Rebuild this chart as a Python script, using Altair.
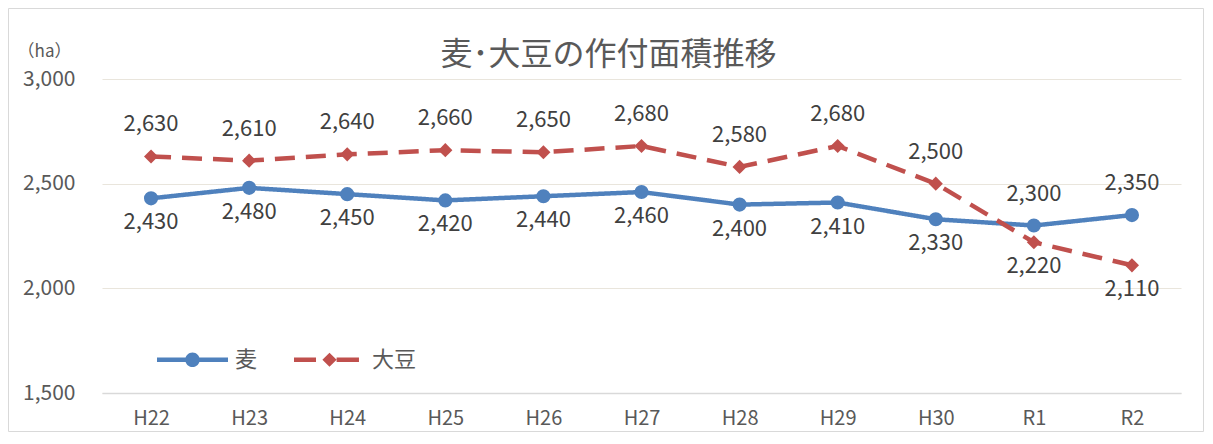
import altair as alt
import pandas as pd

categories = ["H22", "H23", "H24", "H25", "H26", "H27", "H28", "H29", "H30", "R1", "R2"]
wheat = [2430, 2480, 2450, 2420, 2440, 2460, 2400, 2410, 2330, 2300, 2350]
soybean = [2630, 2610, 2640, 2660, 2650, 2680, 2580, 2680, 2500, 2220, 2110]
series_names = ["麦", "大豆"]
y_ticks = [1500, 2000, 2500, 3000]

BLUE = "#4f81bd"
RED = "#c0504d"
FONT = "Noto Sans CJK JP"
TXT = "#595959"

rows = []
for i, c in enumerate(categories):
    w, s = wheat[i], soybean[i]
    rows.append({"cat": c, "series": "麦", "value": w, "upper": bool(w >= s)})
    rows.append({"cat": c, "series": "大豆", "value": s, "upper": bool(s > w)})
df = pd.DataFrame(rows)

W, H = 1079, 314
PL, PT, PR, PB = 94, 71, 23, 39

# legend symbols (unit coords, scaled by sqrt(size)/2)
WHEAT_PATH = ("M-1,-0.065H1V0.065H-1Z "
              "M-0.205,0A0.205,0.205 0 1,1 0.205,0A0.205,0.205 0 1,1 -0.205,0Z")
SOY_PATH = ("M-1,-0.065H-0.38V0.065H-1Z "
            "M0.2,-0.065H0.83V0.065H0.2Z "
            "M0,-0.2L0.2,0L0,0.2L-0.2,0Z")

x = alt.X("cat:N", sort=categories,
          axis=alt.Axis(title=None, labelAngle=0, ticks=False, grid=False,
                        domainColor="#d9d9d9", domainWidth=1.5,
                        labelFontSize=20, labelColor=TXT, labelPadding=15,
                        labelFont=FONT))
y = alt.Y("value:Q", scale=alt.Scale(domain=[1500, 3000], nice=False, zero=False),
          axis=alt.Axis(values=y_ticks, format=",.0f", title="（ha）", titleAngle=0,
                        titleX=-58, titleY=-28, titleAlign="center",
                        titleBaseline="middle", titleFontSize=17,
                        titleFontWeight="normal", titleColor=TXT, titleFont=FONT,
                        labelFontSize=21, labelColor=TXT, labelPadding=27,
                        labelFont=FONT, domain=False, ticks=False,
                        gridColor="#e9e5dc", gridWidth=1.2))

color_nl = alt.Color("series:N", scale=alt.Scale(domain=series_names, range=[BLUE, RED]), legend=None)

base = alt.Chart(df).encode(x=x, y=y)

lines = base.mark_line(strokeWidth=4.5, strokeJoin="round").encode(
    color=color_nl,
    strokeDash=alt.StrokeDash("series:N",
                              scale=alt.Scale(domain=series_names, range=[[1, 0], [20, 11]]),
                              legend=None),
)

points = base.mark_point(filled=True, size=200, opacity=1).encode(
    color=color_nl,
    shape=alt.Shape("series:N", scale=alt.Scale(domain=series_names, range=["circle", "diamond"]),
                    legend=None),
)

labels_up = base.transform_filter("datum.upper").mark_text(
    dy=-32, fontSize=22, font=FONT, color="#404040", baseline="middle"
).encode(text=alt.Text("value:Q", format=","))

labels_down = base.transform_filter("!datum.upper").mark_text(
    dy=24, fontSize=22, font=FONT, color="#404040", baseline="middle"
).encode(text=alt.Text("value:Q", format=","))

leg = dict(title=None, orient="none", legendX=55, legendY=245, direction="horizontal",
           symbolSize=5041, symbolStrokeWidth=0, labelFontSize=22, labelFont=FONT,
           labelColor=TXT, labelOffset=7, columnPadding=36, padding=0, symbolOpacity=1)

legend_layer = base.transform_filter("datum.value < 0").mark_point(filled=True, strokeWidth=0).encode(
    color=alt.Color("series:N", scale=alt.Scale(domain=series_names, range=[BLUE, RED]),
                    legend=alt.Legend(**leg)),
    shape=alt.Shape("series:N", scale=alt.Scale(domain=series_names, range=[WHEAT_PATH, SOY_PATH]),
                    legend=alt.Legend(**leg)),
)

frame = alt.Chart(alt.Data(values=[{"a": 1}])).mark_rect(
    fillOpacity=0, stroke="#d9d9d9", strokeWidth=1
).encode(
    x=alt.value(-PL + 0.5), x2=alt.value(W + PR - 0.5),
    y=alt.value(-PT + 0.5), y2=alt.value(H + PB - 0.5),
)

chart = alt.layer(frame, lines, points, labels_up, labels_down, legend_layer).resolve_scale(
    color="independent", shape="independent", strokeDash="independent"
).properties(
    width=W, height=H,
    title=alt.TitleParams("麦･大豆の作付面積推移", font=FONT, fontSize=32, fontWeight="normal",
                          color=TXT, anchor="middle", frame="group", dx=-33, dy=36,
                          baseline="middle", offset=-43),
    autosize=alt.AutoSizeParams(type="none"),
    padding={"left": PL, "top": PT, "right": PR, "bottom": PB},
).configure_view(stroke=None)

chart.save("out.html", embed_options={"renderer": "svg", "actions": False})
